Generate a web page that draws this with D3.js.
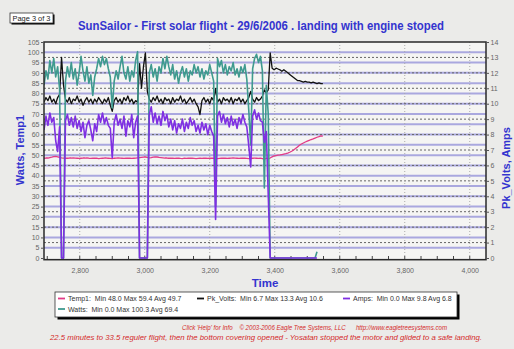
<!DOCTYPE html>
<html><head><meta charset="utf-8">
<script src="https://cdn.jsdelivr.net/npm/d3@7"></script>
<style>
html,body{margin:0;padding:0;background:#ebebe9;}
svg{display:block;font-family:"Liberation Sans",Arial,sans-serif;}
</style></head><body>
<svg id="chart" width="514" height="349"></svg>
<script>
// Logger sample clock: first sample time and spacing between samples
const t0 = 2690, dt = 6;

// Watts (left axis)
const watts = [
  84,91,87,96,90,97,88,93,82,0,
  0,86,93,88,95,87,92,84,90,98,
  91,86,93,85,89,79,88,92,97,93,
  98,94,97,92,88,73,86,91,87,93,
  98,90,87,93,86,91,88,96,100.3,0,
  0,0,0,0,90,94,88,92,86,93,
  90,97,92,98,93,89,94,87,91,85,
  90,93,88,92,86,91,89,94,90,93,
  88,92,87,91,89,94,90,86,25,97,
  93,96,90,94,89,93,91,95,89,92,
  88,93,90,94,87,72,55,92,97,99,
  95,98,91,34,84,70,0,0,0,0,
  0,0,0,0,0,0,0,0,0,0,
  0,0,0,0,0,0,0,0,0,0,
  3,null,null,null
];

// Amps (right axis)
const amps = [
  8.3,9.2,8.6,9.4,8.8,9.1,7.6,6.9,8.5,0,
  0,8.9,9.3,8.6,9.1,8.5,9.2,8.4,8.9,8.2,
  8.8,7.8,8.6,8.9,8.3,7.6,8.7,8.2,9.3,8.8,
  9.4,8.7,9.1,8.6,8.4,6.5,8.8,9.3,8.6,9.0,
  8.4,9.2,7.9,8.9,8.5,9.3,7.8,8.8,9.2,0,
  0,0,0,0,9.3,9.8,8.8,9.4,8.7,9.2,
  8.6,9.5,8.9,9.3,8.5,9.0,8.3,8.9,8.1,8.7,
  8.4,9.0,8.2,8.8,8.4,9.1,8.6,8.9,8.2,8.6,
  8.1,8.8,8.3,8.7,8.0,8.6,8.2,7.9,2.5,9.2,
  9.5,8.8,9.3,8.7,9.1,8.5,9.2,8.6,9.0,8.4,
  9.1,8.7,9.3,8.8,8.5,7.3,5.9,9.2,9.6,9.0,
  9.4,8.9,8.8,7.5,8.2,4.1,0,0,0,0,
  0,0,0,0,0,0,0,0,0,0,
  0,0,0,0,0,0,0,0,0,0,
  0,null,null,null
];

// Pk_Volts (right axis)
const pkVolts = [
  10.1,10.4,10.2,10.5,10.1,10.3,10.0,10.4,10.6,13.0,
  11.2,10.3,10.1,10.4,10.0,10.3,10.2,10.5,10.1,10.3,
  9.9,10.2,10.4,10.1,10.3,10.0,10.3,10.1,10.4,10.2,
  10.0,10.3,10.1,10.4,9.9,9.5,10.2,10.4,10.1,10.3,
  10.0,10.4,10.2,10.5,10.1,10.3,10.0,10.2,10.1,12.6,
  11.0,12.4,13.3,10.8,10.3,10.1,10.4,10.2,10.5,10.1,
  10.3,10.0,10.4,10.2,10.3,10.0,10.4,10.1,10.3,10.2,
  10.5,10.1,10.3,10.0,10.2,10.4,10.1,10.3,10.0,9.8,
  9.3,10.2,10.4,10.1,10.3,10.0,10.4,10.2,11.0,10.1,
  10.3,10.0,10.4,10.2,10.3,10.1,10.4,10.0,10.3,10.2,
  10.4,10.1,10.3,10.0,10.2,10.4,10.8,10.3,10.1,10.4,
  10.2,10.3,10.5,10.9,10.7,10.9,13.3,12.3,12.2,12.3,
  12.25,12.2,12.1,12.2,12.1,12.0,11.9,11.8,11.7,11.6,
  11.5,11.5,11.45,11.4,11.45,11.4,11.4,11.35,11.4,11.35,
  11.3,11.35,11.3,11.3
];

// Temp1 (left axis)
const temp1 = [
  48.5,48.6,48.6,48.8,49.0,49.3,49.4,49.2,48.9,48.7,
  48.6,48.5,48.5,48.6,48.6,48.7,48.6,48.5,48.4,48.5,
  48.6,48.6,48.7,48.5,48.4,48.5,48.6,48.5,48.3,48.4,
  48.5,48.6,48.6,48.5,48.4,48.3,48.5,48.6,48.7,48.6,
  48.5,48.4,48.5,48.6,48.5,48.4,48.5,48.6,48.7,48.8,
  48.9,49.0,49.1,48.9,48.7,48.8,49.0,49.2,49.1,48.9,
  48.8,48.7,48.6,48.6,48.5,48.6,48.5,48.4,48.5,48.6,
  48.4,48.3,48.5,48.4,48.5,48.6,48.5,48.4,48.3,48.4,
  48.5,48.4,48.6,48.5,48.4,48.5,48.6,48.5,48.4,48.3,
  48.4,48.5,48.6,48.5,48.4,48.5,48.6,48.7,48.6,48.5,
  48.4,48.5,48.6,48.5,48.4,48.3,48.4,48.5,48.6,48.5,
  48.4,48.5,48.3,48.0,48.5,48.2,48.6,49.2,49.6,49.8,
  50.0,50.1,50.3,50.5,50.7,51.0,51.4,51.9,52.5,53.2,
  54.0,54.8,55.4,55.9,56.4,56.8,57.2,57.6,57.9,58.3,
  58.7,59.0,59.4,59.2
];

// Axis ticks
const xTicks = [2800, 3000, 3200, 3400, 3600, 3800, 4000];
const leftTicks = [0,5,10,15,20,25,30,35,40,45,50,55,60,65,70,75,80,85,90,95,100,105];
const rightTicks = [0,1,2,3,4,5,6,7,8,9,10,11,12,13,14];

// Texts
const titleText = "SunSailor - First solar flight - 29/6/2006 . landing with engine stoped";
const legendNames = ["Temp1:", "Pk_Volts:", "Amps:", "Watts:"];
const legendStats = ["Min 48.0 Max 59.4 Avg 49.7", "Min 6.7 Max 13.3 Avg 10.6", "Min 0.0 Max 9.8 Avg 6.8", "Min 0.0 Max 100.3 Avg 69.4"];
const footer1 = "Click 'Help' for Info\u00A0\u00A0\u00A0\u00A0\u00A9 2003-2006 Eagle Tree Systems, LLC\u00A0\u00A0\u00A0\u00A0\u00A0\u00A0http://www.eagletreesystems.com";
const footer2 = "22.5 minutes to 33.5 reguler flight, then the bottom covering opened - Yosatan stopped the motor and glided to a safe landing.";

const colors = { temp1: "#e23a86", volts: "#111111", amps: "#7f2fe2", watts: "#3f9a8f" };

const svg = d3.select("#chart");
const X0 = 44, X1 = 486, Y0 = 42, Y1 = 258;

const x = d3.scaleLinear().domain([2690, 4050]).range([X0, X1]);
const yL = d3.scaleLinear().domain([0, 105]).range([Y1, Y0]);
const yR = d3.scaleLinear().domain([0, 14]).range([Y1, Y0]);

function fit(sel, w) {
  sel.attr("textLength", w).attr("lengthAdjust", "spacingAndGlyphs");
  return sel;
}

// page badge
svg.append("rect").attr("x", 11.5).attr("y", 14.5).attr("width", 43).attr("height", 10).attr("fill", "#000");
svg.append("rect").attr("x", 10).attr("y", 13).attr("width", 43).attr("height", 10)
  .attr("fill", "#fff").attr("stroke", "#333").attr("stroke-width", 0.8);
fit(svg.append("text").attr("x", 12.5).attr("y", 20.8).attr("font-size", 7).attr("fill", "#222").text("Page 3 of 3"), 38);

// title
fit(svg.append("text").attr("x", 261).attr("y", 30).attr("text-anchor", "middle")
  .attr("font-size", 12.5).attr("font-weight", "bold").attr("fill", "#3434cf").text(titleText), 366);

// plot background
svg.append("rect").attr("x", X0).attr("y", Y0).attr("width", X1 - X0).attr("height", Y1 - Y0).attr("fill", "#f5f5f3");

const grid = svg.append("g");
grid.selectAll(".gl").data(leftTicks.filter(v => v > 0 && v < 105)).join("line")
  .attr("x1", X0).attr("x2", X1).attr("y1", d => yL(d)).attr("y2", d => yL(d))
  .attr("stroke", "#aaa8df").attr("stroke-width", 2);
grid.selectAll(".gr").data(rightTicks.filter(v => v > 0 && v < 14)).join("line")
  .attr("class", "gr")
  .attr("x1", X0).attr("x2", X1).attr("y1", d => yR(d)).attr("y2", d => yR(d))
  .attr("stroke", "#666").attr("stroke-width", 1).attr("stroke-dasharray", "2,2");
grid.selectAll(".gx").data(xTicks).join("line")
  .attr("class", "gx")
  .attr("x1", d => x(d)).attr("x2", d => x(d)).attr("y1", Y0).attr("y2", Y1)
  .attr("stroke", "#aaa").attr("stroke-width", 1).attr("stroke-dasharray", "1,2");

// minor ticks along the bottom edge
svg.append("g").selectAll("line").data(d3.range(2700, 4050, 50)).join("line")
  .attr("x1", d => x(d)).attr("x2", d => x(d)).attr("y1", Y1 + 1.5).attr("y2", Y1 - 2)
  .attr("stroke", "#444").attr("stroke-width", 1);

// series
svg.append("clipPath").attr("id", "clip").append("rect")
  .attr("x", X0).attr("y", Y0 - 2).attr("width", X1 - X0).attr("height", Y1 - Y0 + 3);
const plot = svg.append("g").attr("clip-path", "url(#clip)");
const tAt = i => t0 + i * dt;
function drawSeries(vals, yScale, color, width) {
  const line = d3.line().defined(d => d != null).x((d, i) => x(tAt(i))).y(d => yScale(d));
  plot.append("path").datum(vals).attr("d", line).attr("fill", "none")
    .attr("stroke", color).attr("stroke-width", width).attr("stroke-linejoin", "round");
}
drawSeries(temp1, yL, colors.temp1, 1.3);
drawSeries(pkVolts, yR, colors.volts, 1.3);
drawSeries(watts, yL, colors.watts, 1.6);
drawSeries(amps, yR, colors.amps, 1.6);

// frame (bottom edge sits just under the zero line)
svg.append("rect").attr("x", X0).attr("y", Y0).attr("width", X1 - X0).attr("height", Y1 - Y0 + 1.7)
  .attr("fill", "none").attr("stroke", "#2a2a2a").attr("stroke-width", 1.5);

function styleAxis(g) {
  g.select(".domain").remove();
  g.selectAll(".tick line").attr("stroke", "#555");
  g.selectAll(".tick text").attr("font-size", 7).attr("fill", "#666").attr("font-family", "Liberation Sans, Arial, sans-serif");
}
svg.append("g").attr("transform", `translate(${X0},0)`)
  .call(d3.axisLeft(yL).tickValues(leftTicks).tickSize(3).tickPadding(1.5)).call(styleAxis);
svg.append("g").attr("transform", `translate(${X1},0)`)
  .call(d3.axisRight(yR).tickValues(rightTicks).tickSize(3).tickPadding(1.5)).call(styleAxis);
svg.append("g").attr("transform", `translate(0,${Y1})`)
  .call(d3.axisBottom(x).tickValues(xTicks).tickFormat(d3.format(",")).tickSize(0).tickPadding(10)).call(styleAxis);

// axis titles
svg.append("text").attr("x", 265).attr("y", 287).attr("text-anchor", "middle")
  .attr("font-size", 11.5).attr("font-weight", "bold").attr("fill", "#3434cf").text("Time");
svg.append("text").attr("transform", "translate(24,150) rotate(-90)").attr("text-anchor", "middle")
  .attr("font-size", 11).attr("font-weight", "bold").attr("fill", "#3434cf").text("Watts, Temp1");
svg.append("text").attr("transform", "translate(510,168) rotate(-90)").attr("text-anchor", "middle")
  .attr("font-size", 11).attr("font-weight", "bold").attr("fill", "#3434cf").text("Pk_Volts, Amps");

// legend
svg.append("rect").attr("x", 57.5).attr("y", 294.5).attr("width", 402).attr("height", 25).attr("fill", "#000");
svg.append("rect").attr("x", 55).attr("y", 292).attr("width", 402).attr("height", 25)
  .attr("fill", "#fff").attr("stroke", "#333").attr("stroke-width", 0.8);
const legendPos = [
  { mx: 58, tx: 68, y: 301, c: colors.temp1 },
  { mx: 197, tx: 207, y: 301, c: colors.volts },
  { mx: 343, tx: 353, y: 301, c: colors.amps },
  { mx: 58, tx: 68, y: 311.5, c: colors.watts }
];
const lg = svg.append("g").selectAll("g").data(legendPos).join("g");
lg.append("line").attr("x1", d => d.mx).attr("x2", d => d.mx + 7).attr("y1", d => d.y - 2.5).attr("y2", d => d.y - 2.5)
  .attr("stroke", d => d.c).attr("stroke-width", 1.8);
lg.append("text").attr("x", d => d.tx).attr("y", d => d.y).attr("font-size", 7).attr("fill", "#333")
  .text((d, i) => legendNames[i] + "\u00A0\u00A0" + legendStats[i]);

// footer notes
fit(svg.append("text").attr("x", 182).attr("y", 330).attr("font-size", 7).attr("font-style", "italic")
  .attr("fill", "#d42a2a").text(footer1), 265);
fit(svg.append("text").attr("x", 50).attr("y", 339.5).attr("font-size", 7).attr("font-style", "italic")
  .attr("fill", "#d42a2a").text(footer2), 432);
</script>
</body></html>
